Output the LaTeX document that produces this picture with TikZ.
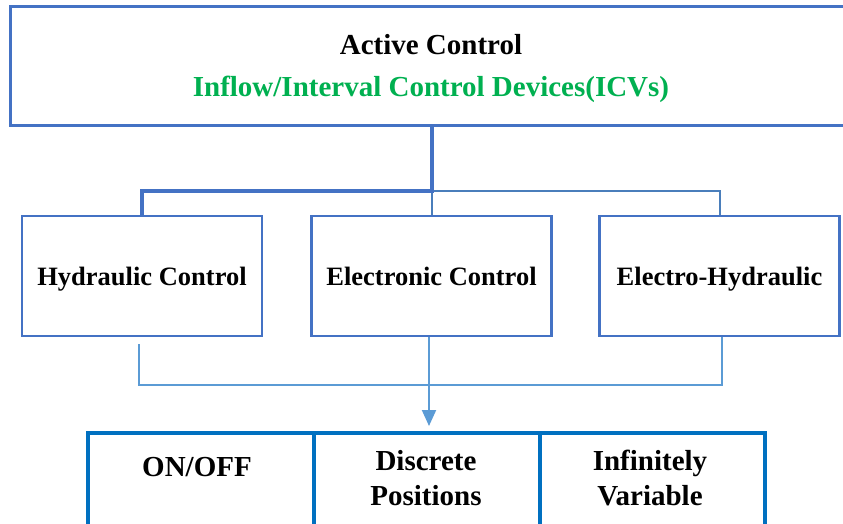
\documentclass[tikz,border=0pt]{standalone}
\usepackage{fontspec}
\setmainfont{Liberation Serif}
\usetikzlibrary{arrows.meta}
\definecolor{boxblue}{HTML}{4472C4}
\definecolor{linkblue}{HTML}{4A7EBB}
\definecolor{lightblue}{HTML}{5B9BD5}
\definecolor{typeblue}{HTML}{0070C0}
\definecolor{icvgreen}{HTML}{00B050}
\tikzset{
  headbox/.style={draw=boxblue, line width=3pt, minimum width=844pt, minimum height=119pt,
    inner sep=0pt},
  headtext/.style={align=center, inner sep=0pt, font=\bfseries\fontsize{29}{42}\selectfont},
  kindbox/.style={draw=boxblue, line width=2.6pt, minimum width=240pt, minimum height=120pt,
    inner sep=0pt, text height=25pt, text depth=6pt, font=\bfseries\fontsize{26.5}{32}\selectfont},
  typebox/.style={draw=typeblue, line width=3.5pt, minimum width=225pt, minimum height=110pt,
    inner sep=0pt, anchor=north west},
  typetext/.style={align=center, inner sep=0pt, font=\bfseries\fontsize{29}{35}\selectfont},
  trunk/.style={draw=boxblue, line width=4pt},
  branch/.style={draw=linkblue, line width=2pt},
  merge/.style={draw=lightblue, line width=2pt},
}
\begin{document}
\begin{tikzpicture}[x=1pt, y=-1pt]
\useasboundingbox (0,0) rectangle (843,524);
\clip (0,0) rectangle (843,524);

% top box and its two title lines
\node[headbox] (head) at (432,66) {};
\node[headtext] (title) at (431,69) {Active Control\\ \textcolor{icvgreen}{Inflow/Interval Control Devices(ICVs)}};

% control kinds
\node[kindbox] (hyd)  at (142,276)   {Hydraulic Control};
\node[kindbox] (elec) at (431.5,276) {Electronic Control};
\node[kindbox] (ehy)  at (719.5,276) {Electro-Hydraulic};

% valve types
\node[typebox, minimum width=226pt] (onoff) at (86,431)  {};
\node[typebox, minimum width=226pt] (disc)  at (312,431) {};
\node[typebox, minimum width=225pt] (infv)  at (538,431) {};
\node[typetext] (t1) at (197,467)   {ON/OFF};
\node[typetext] (t2) at (426,478.5) {Discrete\\Positions};
\node[typetext] (t3) at (650,478.5) {Infinitely\\Variable};

% connectors from the top box
\coordinate (bus) at (432,191);
\draw[branch] (bus) -| (ehy.north);
\draw[branch] (bus) -- (elec.north -| bus);
\draw[trunk] (head.south -| bus) -- (bus) -| (hyd.north);

% connectors into the valve types
\coordinate (jn) at (429,385);
\draw[merge] ([xshift=-3pt,yshift=-7pt]hyd.south) |- (jn);
\draw[merge] ([xshift=2.5pt]ehy.south) |- (jn);
\draw[merge, -{Triangle[width=14pt,length=16pt]}, shorten >=5pt] (elec.south -| jn) -- (disc.north -| jn);
\end{tikzpicture}
\end{document}
